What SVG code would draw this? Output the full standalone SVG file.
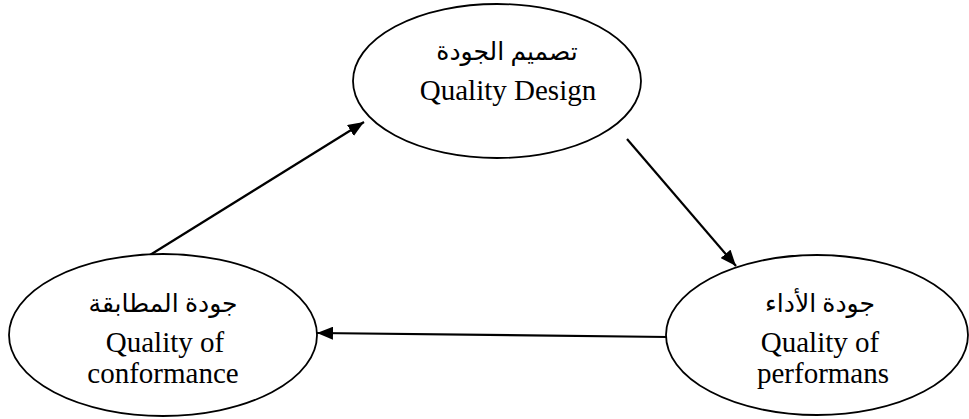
<svg xmlns="http://www.w3.org/2000/svg" width="969" height="419" viewBox="0 0 969 419">
  <defs>
    <style>
      .node { fill: #ffffff; stroke: #000000; stroke-width: 1.8; }
      .lbl { font-family: "Liberation Serif", "DejaVu Serif", serif; font-size: 29px; fill: #000000; text-anchor: middle; }
      .ar { font-family: "Liberation Serif", "DejaVu Sans", serif; font-size: 25px; fill: #000000; text-anchor: middle; direction: rtl; }
      .link { stroke: #000000; stroke-width: 2.2; fill: none; marker-end: url(#head); }
    </style>
    <marker id="head" viewBox="0 0 16 13" refX="16" refY="6.5" markerWidth="16" markerHeight="13" markerUnits="userSpaceOnUse" orient="auto">
      <path d="M0,0 L16,6.5 L0,13 z" fill="#000000"/>
    </marker>
  </defs>
  <rect width="969" height="419" fill="#ffffff"/>

  <!-- connectors -->
  <g id="connectors">
    <line class="link" x1="150" y1="255" x2="364" y2="122"/>
    <line class="link" x1="627" y1="139" x2="736" y2="266"/>
    <line class="link" x1="668" y1="337" x2="317" y2="333"/>
  </g>

  <!-- design node -->
  <g id="quality-design">
    <ellipse class="node" cx="497" cy="81" rx="144" ry="77"/>
    <text class="ar" x="507" y="60">تصميم الجودة</text>
    <text class="lbl" x="508" y="100">Quality Design</text>
  </g>

  <!-- performance node -->
  <g id="quality-performance">
    <ellipse class="node" cx="817" cy="335" rx="151" ry="80"/>
    <text class="ar" x="820" y="312">جودة الأداء</text>
    <text class="lbl" x="820" y="352">Quality of</text>
    <text class="lbl" x="823" y="383">performans</text>
  </g>

  <!-- conformance node -->
  <g id="quality-conformance">
    <ellipse class="node" cx="163" cy="335" rx="154" ry="81"/>
    <text class="ar" x="163" y="312">جودة المطابقة</text>
    <text class="lbl" x="165" y="352">Quality of</text>
    <text class="lbl" x="163" y="383">conformance</text>
  </g>
</svg>
